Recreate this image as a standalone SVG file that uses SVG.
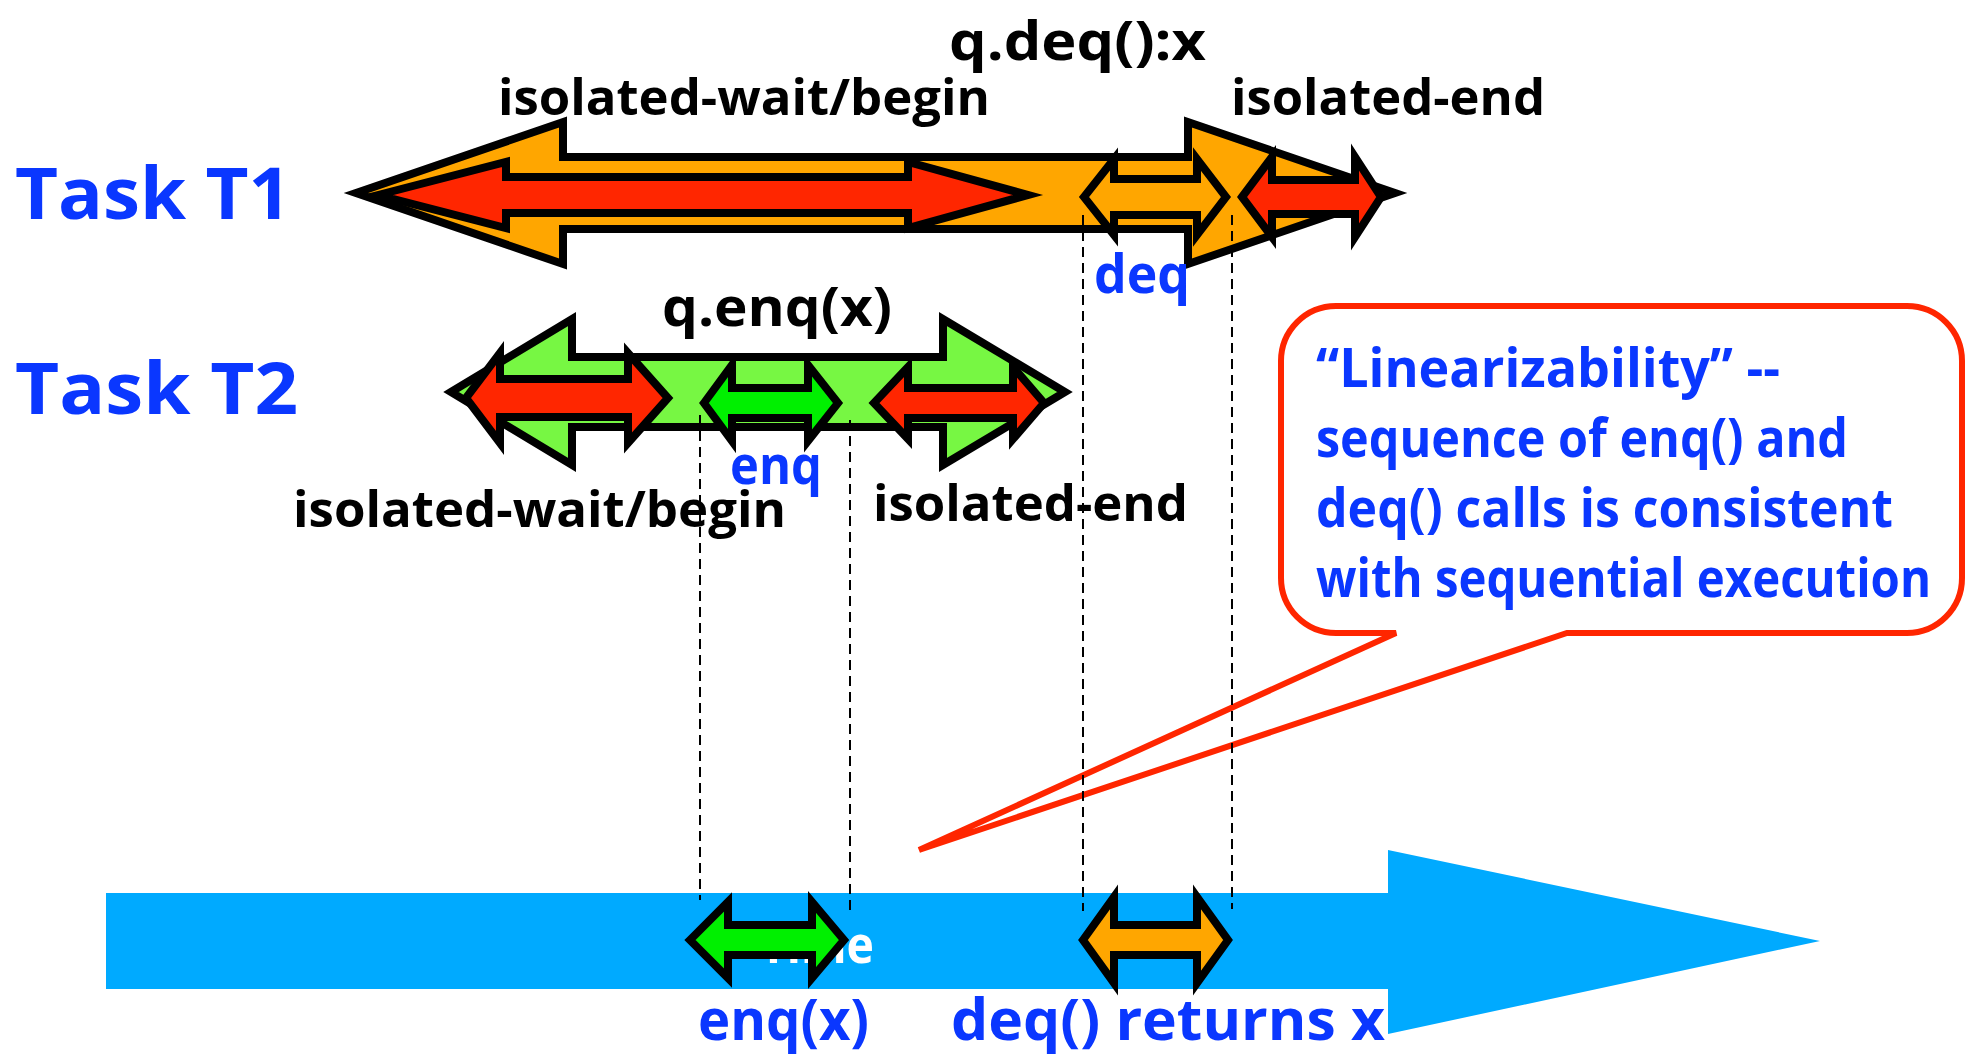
<svg xmlns="http://www.w3.org/2000/svg" width="1965" height="1058" viewBox="0 0 1965 1058">
<style>
.t{font-family:"Open Sans","DejaVu Sans",sans-serif;font-weight:bold}
.blk{fill:#000}
.blu{fill:#0a37ff}
.wht{fill:#ffffff}
.arr{stroke:#000;stroke-width:8;stroke-linejoin:miter;stroke-miterlimit:6}
.org{fill:#ffa600}
.red{fill:#ff2600}
.lgr{fill:#77f743}
.grn{fill:#00f000}
.dash{stroke:#000;stroke-width:2;stroke-dasharray:10 6;fill:none}
</style>
<rect width="1965" height="1058" fill="#fff"/>

<g id="callout">
<path d="M1336,306 L1907,306 A55,55 0 0 1 1962,361 L1962,578 A55,55 0 0 1 1907,633 L1567,633 L919,850 L1396,633 L1336,633 A55,55 0 0 1 1281,578 L1281,361 A55,55 0 0 1 1336,306 Z" fill="#fff" stroke="#ff2600" stroke-width="6" stroke-linejoin="miter"/>
<text class="t blu" font-size="54" x="1316" y="387" textLength="464" lengthAdjust="spacingAndGlyphs">“Linearizability” --</text>
<text class="t blu" font-size="54" x="1316" y="457" textLength="532" lengthAdjust="spacingAndGlyphs">sequence of enq() and</text>
<text class="t blu" font-size="54" x="1316" y="527" textLength="577" lengthAdjust="spacingAndGlyphs">deq() calls is consistent</text>
<text class="t blu" font-size="54" x="1316" y="597" textLength="615" lengthAdjust="spacingAndGlyphs">with sequential execution</text>
</g>

<g id="timeline">
<polygon points="106,893 1388,893 1388,850 1820,941 1388,1034 1388,989 106,989" fill="#00aaff"/>
<text class="t wht" font-size="52" x="760" y="963" textLength="114" lengthAdjust="spacingAndGlyphs">Time</text>
</g>

<g id="task-t1">
<text class="t blu" font-size="72" x="15" y="219" textLength="276" lengthAdjust="spacingAndGlyphs">Task T1</text>
<polygon class="arr org" points="356,193 563,122 563,157 1188,157 1188,122 1395,193 1188,264 1188,229 563,229 563,264"/>
<polygon class="arr red" points="378,195 506,162 506,177 908,177 908,162 1028,195 908,228 908,213 506,213 506,228"/>
</g>

<g id="task-t2">
<text class="t blu" font-size="72" x="15" y="414" textLength="283" lengthAdjust="spacingAndGlyphs">Task T2</text>
<polygon class="arr lgr" points="451,392 572,319 572,357 943,357 943,319 1065,392 943,465 943,427 572,427 572,465"/>
<polygon class="arr red" points="466,398 500,353 500,379 628,379 628,353 668,398 628,443 628,417 500,417 500,443"/>
<polygon class="arr red" points="874,403 908,367 908,388 1013,388 1013,367 1044,403 1013,439 1013,418 908,418 908,439"/>
</g>

<g id="connectors">
<line class="dash" x1="700" y1="415" x2="700" y2="900"/>
<line class="dash" x1="850" y1="420" x2="850" y2="912"/>
<line class="dash" x1="1083" y1="215" x2="1083" y2="911"/>
<line class="dash" x1="1232" y1="215" x2="1232" y2="909"/>
</g>

<g id="deq-op">
<polygon class="arr org" points="1084,197 1114,159 1114,179 1197,179 1197,159 1226,197 1197,235 1197,215 1114,215 1114,235"/>
</g>
<g id="t1-end">
<polygon class="arr red" points="1242,197 1272,157 1272,180 1355,180 1355,157 1381,197 1355,237 1355,214 1272,214 1272,237"/>
</g>
<g id="enq-op">
<polygon class="arr grn" points="704,403 732,365 732,388 808,388 808,365 838,403 808,441 808,418 732,418 732,441"/>
</g>

<g id="enq-linear">
<polygon class="arr grn" points="690,940 728,902 728,925 812,925 812,902 844,940 812,978 812,955 728,955 728,978"/>
</g>
<g id="deq-linear">
<polygon class="arr org" points="1083,940 1114,897 1114,925 1197,925 1197,897 1228,940 1197,983 1197,955 1114,955 1114,983"/>
</g>

<g id="labels">
<text class="t blk" font-size="54" x="949" y="60" textLength="257" lengthAdjust="spacingAndGlyphs">q.deq():x</text>
<text class="t blk" font-size="50" x="498" y="115" textLength="492" lengthAdjust="spacingAndGlyphs">isolated-wait/begin</text>
<text class="t blk" font-size="50" x="1231" y="115" textLength="314" lengthAdjust="spacingAndGlyphs">isolated-end</text>
<text class="t blu" font-size="54" x="1094" y="293" textLength="96" lengthAdjust="spacingAndGlyphs">deq</text>
<text class="t blk" font-size="54" x="662" y="326" textLength="230" lengthAdjust="spacingAndGlyphs">q.enq(x)</text>
<text class="t blu" font-size="54" x="730" y="484" textLength="92" lengthAdjust="spacingAndGlyphs">enq</text>
<text class="t blk" font-size="50" x="293" y="527" textLength="493" lengthAdjust="spacingAndGlyphs">isolated-wait/begin</text>
<text class="t blk" font-size="50" x="873" y="521" textLength="315" lengthAdjust="spacingAndGlyphs">isolated-end</text>
<text class="t blu" font-size="58" x="698" y="1040" textLength="171" lengthAdjust="spacingAndGlyphs">enq(x)</text>
<text class="t blu" font-size="58" x="951" y="1040" textLength="434" lengthAdjust="spacingAndGlyphs">deq() returns x</text>
</g>
</svg>
